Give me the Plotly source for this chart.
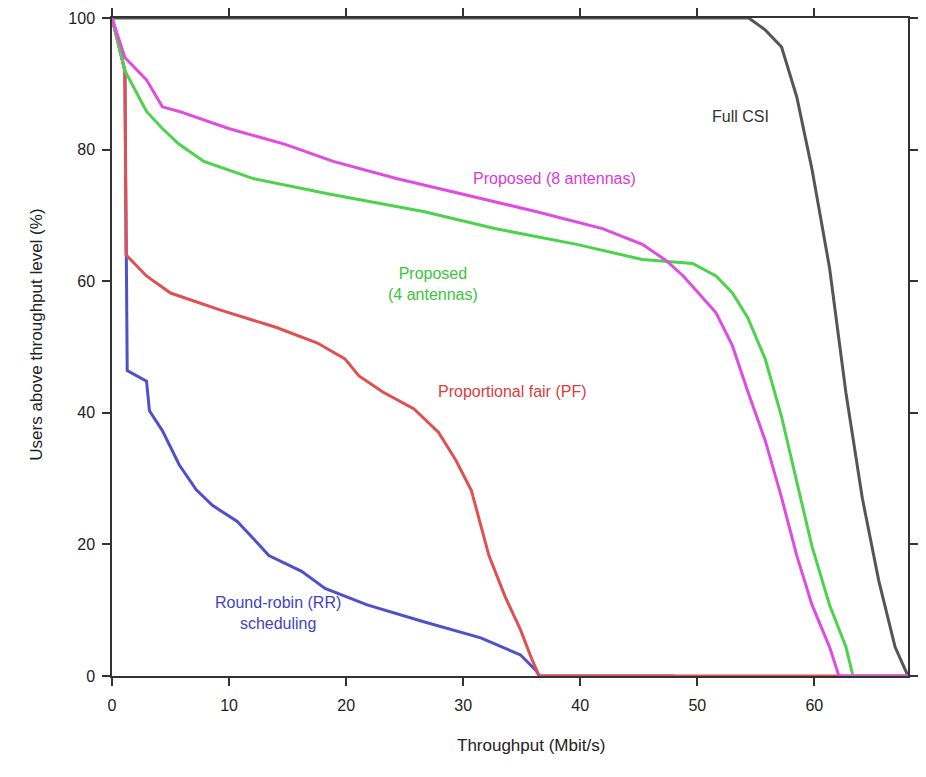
import plotly.graph_objects as go

# Per-user throughput CCDF: share of users whose rate exceeds a threshold
rate_bound = [0, 54.4, 55.8, 57.2, 58.5, 59.8, 61.3, 62.7, 64.1, 65.5, 66.9, 68.0]
ccdf_bound = [100, 100, 98.2, 95.6, 88.0, 77.0, 62.0, 43.0, 27.0, 14.5, 4.4, 0]

rate_prop8 = [0, 1.1, 2.95, 4.3, 5.74, 9.96, 14.8, 18.9, 24.3, 30.0, 36.2, 41.9, 45.3,
              47.3, 48.8, 50.1, 51.6, 53.0, 54.3, 55.8, 57.2, 58.5, 59.8, 61.3, 62.1, 68]
ccdf_prop8 = [100, 94, 90.6, 86.5, 85.8, 83.2, 80.8, 78.2, 75.6, 73.2, 70.6, 68.0, 65.6,
              63.2, 60.8, 58.2, 55.2, 50.2, 43.3, 35.8, 27.1, 18.3, 10.8, 4.4, 0, 0]

rate_prop4 = [0, 1.1, 2.95, 4.3, 5.74, 7.85, 12.07, 18.65, 26.6, 32.7, 39.7, 45.3, 49.6,
              51.6, 53.0, 54.3, 55.8, 57.2, 58.5, 59.8, 61.3, 62.7, 63.3, 68]
ccdf_prop4 = [100, 92, 85.8, 83.2, 80.8, 78.2, 75.6, 73.2, 70.6, 68.0, 65.6, 63.3, 62.7,
              60.8, 58.2, 54.5, 48.2, 39.4, 29.5, 19.7, 10.8, 4.4, 0, 0]

rate_pf = [0, 1.1, 1.2, 2.95, 5.0, 9.28, 14.0, 17.55, 19.9, 21.1, 23.1, 25.8, 27.9,
           29.4, 30.7, 32.2, 33.6, 34.9, 35.9, 36.5, 68]
ccdf_pf = [100, 92, 64, 60.8, 58.2, 55.6, 53.0, 50.6, 48.2, 45.6, 43.2, 40.6, 37.0,
           32.7, 28.2, 18.3, 12.0, 7.0, 2.4, 0, 0]

rate_rr = [0, 1.1, 1.3, 2.95, 3.2, 4.3, 5.74, 7.2, 8.6, 10.7, 12.07, 13.4, 16.2,
           18.2, 21.8, 26.7, 31.5, 34.9, 36.2, 36.5, 48.0]
ccdf_rr = [100, 92, 46.4, 44.8, 40.3, 37.3, 32.1, 28.3, 25.9, 23.5, 20.9, 18.3, 15.9,
           13.3, 10.8, 8.2, 5.8, 3.2, 0.9, 0, 0]

x_ticks = [0, 10, 20, 30, 40, 50, 60]
y_ticks = [0, 20, 40, 60, 80, 100]

series = [
    ("Full CSI", rate_bound, ccdf_bound, "#555555"),
    ("Round-robin (RR) scheduling", rate_rr, ccdf_rr, "#5050cc"),
    ("Proportional fair (PF)", rate_pf, ccdf_pf, "#e05050"),
    ("Proposed (4 antennas)", rate_prop4, ccdf_prop4, "#4cd34c"),
    ("Proposed (8 antennas)", rate_prop8, ccdf_prop8, "#e04ce0"),
]

fig = go.Figure()
for name, xs, ys, color in series:
    fig.add_trace(go.Scatter(x=xs, y=ys, mode="lines", name=name,
                             line=dict(color=color, width=3)))

# inline curve labels
labels = [
    ("Full CSI", 53.7, 85.0, "#333333"),
    ("Proposed (8 antennas)", 37.8, 75.6, "#d83ad8"),
    ("Proposed<br>(4 antennas)", 27.4, 59.5, "#3cc43c"),
    ("Proportional fair (PF)", 34.2, 43.2, "#d84040"),
    ("Round-robin (RR)<br>scheduling", 14.2, 9.5, "#4444c0"),
]
for text, lx, ly, color in labels:
    fig.add_annotation(x=lx, y=ly, text=text, showarrow=False,
                       font=dict(size=16, color=color), align="center")

axis_style = dict(showline=True, linecolor="#333333", linewidth=1.5, mirror="ticks",
                  ticks="outside", ticklen=8, tickcolor="#333333", tickwidth=1.5,
                  showgrid=False, zeroline=False, layer="below traces",
                  tickfont=dict(size=16, color="#222222"))

fig.update_xaxes(range=[0, 68], tickvals=x_ticks, ticklabelstandoff=6, **axis_style)
fig.update_yaxes(range=[0, 100], tickvals=y_ticks, ticklabelstandoff=4, **axis_style)

# axis titles
fig.add_annotation(xref="paper", yref="paper", x=0.526, y=-0.1224,
                   text="Throughput (Mbit/s)", showarrow=False,
                   font=dict(size=17, color="#222222"))
fig.add_annotation(xref="paper", yref="paper", x=-0.1092, y=0.518, textangle=-90,
                   text="Users above throughput level (%)", showarrow=False,
                   font=dict(size=17, color="#222222"))

fig.update_layout(
    width=926, height=777,
    margin=dict(l=112, r=8, t=14, b=101),
    plot_bgcolor="white", paper_bgcolor="white",
    showlegend=False,
    font=dict(family="Arial, Liberation Sans, sans-serif"),
)

fig.write_html("out.html")
